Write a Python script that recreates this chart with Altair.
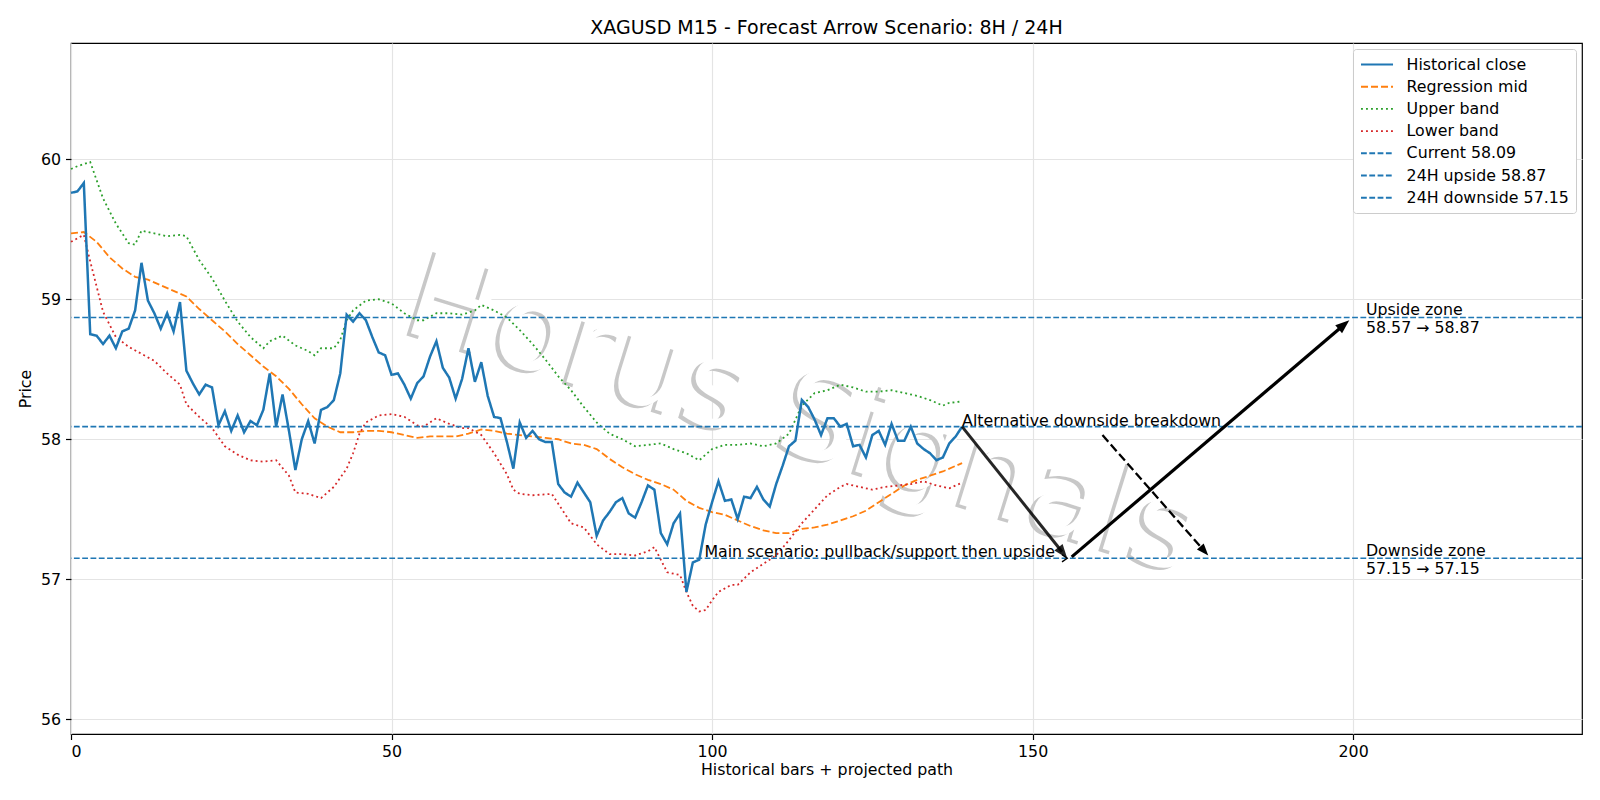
import math
import altair as alt
import pandas as pd

TITLE = "XAGUSD M15 - Forecast Arrow Scenario: 8H / 24H"
FONT = "DejaVu Sans"

# Historical M15 closes, one per bar (bars 0..139)
close = [
    59.76, 59.77, 59.83, 58.75, 58.74, 58.68, 58.74, 58.65, 58.77, 58.79,
    58.92, 59.26, 58.99, 58.90, 58.79, 58.90, 58.77, 58.98, 58.49, 58.40,
    58.32, 58.39, 58.37, 58.10, 58.20, 58.06, 58.17, 58.05, 58.13, 58.10,
    58.21, 58.47, 58.09, 58.32, 58.06, 57.78, 58.00, 58.13, 57.97, 58.21,
    58.23, 58.28, 58.47, 58.89, 58.84, 58.90, 58.85, 58.73, 58.62, 58.60,
    58.46, 58.47, 58.39, 58.29, 58.40, 58.45, 58.59, 58.70, 58.51, 58.44,
    58.29, 58.43, 58.65, 58.41, 58.55, 58.31, 58.16, 58.15, 57.98, 57.79,
    58.12, 58.01, 58.06, 58.00, 57.98, 57.98, 57.68, 57.62, 57.59, 57.69,
    57.62, 57.55, 57.31, 57.42, 57.48, 57.55, 57.58, 57.47, 57.44, 57.55,
    57.67, 57.64, 57.33, 57.25, 57.40, 57.47, 56.91, 57.12, 57.14, 57.39,
    57.55, 57.70, 57.56, 57.57, 57.43, 57.59, 57.58, 57.66, 57.57, 57.52,
    57.68, 57.81, 57.95, 57.99, 58.28, 58.23, 58.14, 58.03, 58.15, 58.15,
    58.09, 58.11, 57.95, 57.96, 57.87, 58.03, 58.06, 57.96, 58.11, 57.99,
    57.99, 58.09, 57.97, 57.93, 57.90, 57.85, 57.87, 57.97, 58.02, 58.09,
]

# Regression channel
mid_x = [0, 2, 4, 6, 8, 10, 12, 14, 16, 18, 20, 22, 24, 26, 28, 30, 32, 34, 36, 38,
         40, 42, 44, 46, 48, 50, 52, 54, 56, 58, 60, 62, 64, 66, 68, 70, 72, 74, 76, 78,
         80, 82, 84, 86, 88, 90, 92, 94, 96, 98, 100, 102, 104, 106, 108, 110, 112, 114,
         116, 118, 120, 122, 124, 126, 128, 130, 132, 134, 136, 138, 139]
mid_y = [59.47, 59.48, 59.41, 59.30, 59.22, 59.16, 59.14, 59.10, 59.06, 59.02, 58.93,
         58.85, 58.77, 58.68, 58.60, 58.52, 58.45, 58.36, 58.25, 58.15, 58.09, 58.05,
         58.05, 58.06, 58.06, 58.05, 58.03, 58.01, 58.02, 58.02, 58.02, 58.04, 58.07,
         58.06, 58.04, 58.03, 58.02, 58.01, 58.00, 57.97, 57.96, 57.93, 57.86, 57.80,
         57.75, 57.71, 57.68, 57.64, 57.56, 57.51, 57.48, 57.46, 57.42, 57.38, 57.35,
         57.33, 57.33, 57.36, 57.37, 57.39, 57.42, 57.45, 57.49, 57.55, 57.61, 57.67,
         57.71, 57.74, 57.77, 57.81, 57.83]

upper_x = [0, 1, 3, 5, 7, 9, 10, 11, 13, 15, 17, 18, 20, 22, 24, 26, 28, 30, 31, 33,
           35, 37, 38, 39, 41, 42, 43, 44, 46, 48, 50, 52, 54, 55, 57, 59, 61, 63, 64,
           66, 68, 70, 72, 74, 76, 78, 80, 82, 84, 86, 88, 90, 92, 94, 96, 98, 100, 102,
           104, 106, 108, 110, 112, 113, 114, 116, 118, 120, 122, 124, 126, 128, 130,
           132, 134, 136, 137, 139]
upper_y = [59.93, 59.95, 59.98, 59.72, 59.54, 59.40, 59.39, 59.49, 59.47, 59.45, 59.46,
           59.45, 59.28, 59.15, 58.99, 58.84, 58.73, 58.65, 58.70, 58.74, 58.67, 58.63,
           58.60, 58.65, 58.65, 58.71, 58.85, 58.92, 58.99, 59.00, 58.97, 58.90, 58.85,
           58.85, 58.90, 58.90, 58.89, 58.92, 58.96, 58.92, 58.87, 58.78, 58.68, 58.57,
           58.45, 58.35, 58.23, 58.12, 58.04, 58.00, 57.95, 57.96, 57.97, 57.93, 57.90,
           57.85, 57.93, 57.96, 57.96, 57.97, 57.95, 57.97, 58.04, 58.14, 58.24, 58.33,
           58.35, 58.39, 58.37, 58.34, 58.34, 58.35, 58.33, 58.31, 58.28, 58.24, 58.26,
           58.27]

lower_x = [0, 2, 3, 5, 7, 9, 11, 13, 15, 17, 18, 20, 22, 24, 26, 28, 30, 32, 34, 35,
           37, 39, 41, 43, 44, 45, 46, 48, 50, 52, 54, 55, 57, 59, 61, 62, 64, 66, 68,
           69, 70, 72, 75, 77, 78, 80, 82, 84, 86, 88, 90, 91, 92, 93, 95, 96, 97, 98,
           99, 100, 101, 103, 104, 106, 108, 110, 112, 114, 116, 118, 120, 121, 123,
           125, 127, 129, 131, 133, 135, 137, 139]
lower_y = [59.41, 59.46, 59.27, 58.91, 58.73, 58.66, 58.61, 58.56, 58.47, 58.39, 58.25,
           58.16, 58.08, 57.95, 57.89, 57.85, 57.84, 57.85, 57.74, 57.62, 57.61, 57.58,
           57.66, 57.79, 57.90, 58.04, 58.12, 58.17, 58.18, 58.16, 58.10, 58.09, 58.15,
           58.11, 58.08, 58.08, 58.03, 57.90, 57.75, 57.64, 57.61, 57.60, 57.61, 57.47,
           57.40, 57.37, 57.25, 57.18, 57.18, 57.17, 57.20, 57.23, 57.14, 57.05, 57.03,
           56.91, 56.81, 56.77, 56.78, 56.85, 56.91, 56.96, 56.96, 57.05, 57.11, 57.17,
           57.28, 57.40, 57.50, 57.60, 57.66, 57.68, 57.66, 57.64, 57.66, 57.67, 57.68,
           57.70, 57.67, 57.65, 57.69]

# Reference levels
current_price = 58.09
upside_target = 58.87
upside_low = 58.57
downside_target = 57.15
downside_low = 57.15

series_names = ["Historical close", "Regression mid", "Upper band", "Lower band",
                f"Current {current_price:.2f}", f"24H upside {upside_target:.2f}",
                f"24H downside {downside_target:.2f}"]
series_colors = ["#1f77b4", "#ff7f0e", "#2ca02c", "#d62728", "#1f77b4", "#1f77b4", "#1f77b4"]
series_dashes = [[1, 0], [7, 3], [1.9, 3.1], [1.9, 3.1], [5.8, 2.5], [5.8, 2.5], [5.8, 2.5]]

# Scenario arrows: start (bar, price) -> tip (bar, price)
arrow_main_down = (139.0, current_price, 155.4, downside_target)
arrow_main_up = (156.1, 57.16, 199.4, 58.85)
arrow_alt_down = (160.9, 58.03, 177.4, 57.17)

# Plot geometry
W, H = 1511, 691
X_MIN, X_MAX = 0.0, 235.7
Y_MIN, Y_MAX = 55.895, 60.83
PX_X = W / (X_MAX - X_MIN)
PX_Y = H / (Y_MAX - Y_MIN)

x_scale = alt.Scale(domain=[X_MIN, X_MAX], nice=False, zero=False)
y_scale = alt.Scale(domain=[Y_MIN, Y_MAX], nice=False, zero=False)
x_axis = alt.Axis(values=[0, 50, 100, 150, 200], title="Historical bars + projected path",
                  grid=True, titlePadding=3, format="d")
y_axis = alt.Axis(values=[56, 57, 58, 59, 60], title="Price", grid=True, titlePadding=7,
                  format="d")

legend = alt.Legend(
    title=None, orient="top-right", offset=6, padding=7,
    strokeColor="#cccccc", fillColor="white", cornerRadius=3,
    labelFont=FONT, labelFontSize=15.8, labelColor="black", labelLimit=400,
    symbolType="M-1,0H3.27", symbolSize=225, symbolStrokeWidth=1.9,
    labelOffset=29.6, rowPadding=5.2,
)
color_enc = alt.Color("series:N", scale=alt.Scale(domain=series_names, range=series_colors),
                      legend=legend)
dash_enc = alt.StrokeDash("series:N", scale=alt.Scale(domain=series_names, range=series_dashes),
                          legend=legend)

X = alt.X("x:Q", scale=x_scale, axis=x_axis)
Y = alt.Y("y:Q", scale=y_scale, axis=y_axis)

# --- data tables -----------------------------------------------------------
hist_df = pd.DataFrame({"x": list(range(len(close))), "y": close, "series": series_names[0]})
band_df = pd.concat([
    pd.DataFrame({"x": mid_x, "y": mid_y, "series": series_names[1]}),
    pd.DataFrame({"x": upper_x, "y": upper_y, "series": series_names[2]}),
    pd.DataFrame({"x": lower_x, "y": lower_y, "series": series_names[3]}),
], ignore_index=True)
level_df = pd.DataFrame({"y": [current_price, upside_target, downside_target],
                         "series": series_names[4:]})


def arrow_parts(a, head_px):
    x0, y0, x1, y1 = a
    dxp = (x1 - x0) * PX_X
    dyp = -(y1 - y0) * PX_Y
    L = math.hypot(dxp, dyp)
    ux, uy = dxp / L, dyp / L
    ang = math.degrees(math.atan2(ux, -uy)) % 360
    back = head_px * 0.6
    sx = x1 - ux * back / PX_X
    sy = y1 + uy * back / PX_Y
    return dict(x=x0, y=y0, x2=sx, y2=sy, tx=x1, ty=y1, ang=ang)


HEAD_PATH = "M0,0L0.75,2L-0.75,2Z"

# --- watermark ---------------------------------------------------------------
wm_df = pd.DataFrame({"x": [112.4], "y": [57.91], "t": ["Horus Signals"]})
wm_kw = dict(font=FONT, fontSize=120, angle=17.3, align="center", baseline="alphabetic")
wm_shadow = alt.Chart(wm_df).mark_text(color="#c8c8c8", dx=-3.5, dy=3.5, **wm_kw).encode(
    x=alt.X("x:Q", scale=x_scale), y=alt.Y("y:Q", scale=y_scale), text="t:N")
wm_face = alt.Chart(wm_df).mark_text(color="white", **wm_kw).encode(
    x=alt.X("x:Q", scale=x_scale), y=alt.Y("y:Q", scale=y_scale), text="t:N")

# --- series ------------------------------------------------------------------
bands = alt.Chart(band_df).mark_line(strokeWidth=1.8).encode(
    x=X, y=Y, color=color_enc, strokeDash=dash_enc, detail="series:N")
hist = alt.Chart(hist_df).mark_line(strokeWidth=2.5).encode(
    x=alt.X("x:Q", scale=x_scale), y=alt.Y("y:Q", scale=y_scale),
    color=color_enc, strokeDash=dash_enc)
levels = alt.Chart(level_df).mark_rule(strokeWidth=1.6).encode(
    y=alt.Y("y:Q", scale=y_scale), color=color_enc, strokeDash=dash_enc)

# --- arrows ------------------------------------------------------------------
layers_arrows = []
for a, dash, op, sw, hp in [
    (arrow_main_down, None, 0.85, 3.0, 14),
    (arrow_main_up, None, 1.0, 3.2, 14),
    (arrow_alt_down, [8.8, 3.8], 1.0, 2.3, 12),
]:
    p = arrow_parts(a, hp)
    df = pd.DataFrame([p])
    rule_kw = dict(color="black", strokeWidth=sw, opacity=op)
    if dash:
        rule_kw["strokeDash"] = dash
    shaft = alt.Chart(df).mark_rule(**rule_kw).encode(
        x=alt.X("x:Q", scale=x_scale), y=alt.Y("y:Q", scale=y_scale), x2="x2:Q", y2="y2:Q")
    head = alt.Chart(df).mark_point(
        shape=HEAD_PATH, filled=True, color="black", opacity=op, size=hp * hp, strokeWidth=0
    ).encode(x=alt.X("tx:Q", scale=x_scale), y=alt.Y("ty:Q", scale=y_scale),
             angle=alt.Angle("ang:Q", scale=None))
    layers_arrows += [shaft, head]

# open chevron at the end of the main-scenario label
chev_df = pd.DataFrame({"x": [155.4], "y": [downside_target]})
chevron = alt.Chart(chev_df).mark_point(
    shape="M-1.3,-0.9L0,0L-1.3,0.9", filled=False, color="black", size=64,
    strokeWidth=1.4, opacity=1,
).encode(x=alt.X("x:Q", scale=x_scale), y=alt.Y("y:Q", scale=y_scale))

# --- annotations -------------------------------------------------------------
note_df = pd.DataFrame({
    "x": [139.0, 98.8],
    "y": [current_price, downside_target],
    "t": ["Alternative downside breakdown", "Main scenario: pullback/support then upside"],
})
notes = alt.Chart(note_df).mark_text(
    font=FONT, fontSize=15.8, align="left", baseline="alphabetic", color="black", dy=-1,
).encode(x=alt.X("x:Q", scale=x_scale), y=alt.Y("y:Q", scale=y_scale), text="t:N")

zone_df = pd.DataFrame({
    "x": [202.0, 202.0],
    "y": [upside_target, downside_target],
    "t": [f"Upside zone\n{upside_low:.2f} \u2192 {upside_target:.2f}",
          f"Downside zone\n{downside_low:.2f} \u2192 {downside_target:.2f}"],
})
zones = alt.Chart(zone_df).mark_text(
    font=FONT, fontSize=15.8, align="left", baseline="middle", color="black",
    lineBreak="\n", lineHeight=17.5, dy=-7,
).encode(x=alt.X("x:Q", scale=x_scale), y=alt.Y("y:Q", scale=y_scale), text="t:N")

chart = alt.layer(
    wm_shadow, wm_face, bands, hist, levels, *layers_arrows, chevron, notes, zones
).properties(
    width=W, height=H,
    title=alt.TitleParams(TITLE, font=FONT, fontSize=19, fontWeight="normal", color="black",
                          anchor="middle", offset=10, dy=20, baseline="alphabetic"),
    autosize=alt.AutoSizeParams(type="none"),
    padding={"left": 71, "top": 43, "right": 18, "bottom": 66},
    background="white",
).configure_view(
    stroke="black", strokeWidth=1.2,
).configure_axis(
    labelFont=FONT, labelFontSize=15.8, labelColor="black",
    titleFont=FONT, titleFontSize=15.8, titleFontWeight="normal", titleColor="black",
    tickColor="black", tickSize=5.5, tickWidth=1.2, labelPadding=5,
    domain=False, gridColor="#e4e4e4", gridWidth=1.2,
)

chart.save("out.html", embed_options={"renderer": "svg", "actions": False})
